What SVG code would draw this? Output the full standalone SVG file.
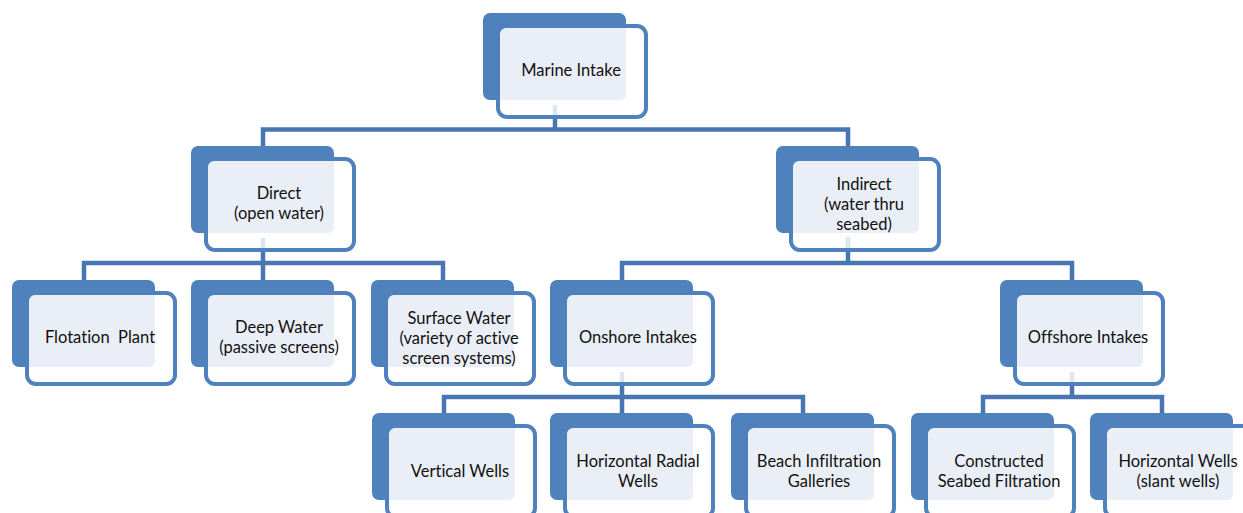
<svg xmlns="http://www.w3.org/2000/svg" xmlns:xlink="http://www.w3.org/1999/xlink" width="1243" height="513" viewBox="0 0 1243 513">
<style>
.t{font-family:Lato,"Open Sans","Liberation Sans",sans-serif;font-size:16.5px;fill:#111;text-anchor:middle;white-space:pre;font-variant-ligatures:none;font-feature-settings:"liga" 0,"dlig" 0}
.c{fill:none;stroke:#4876B2;stroke-width:4.5;stroke-linejoin:miter}
</style>
<defs>
<g id="card">
<rect x="0" y="0" width="143" height="87" rx="7" fill="#4F81BD"/>
<rect x="15" y="13" width="148" height="91" rx="9" fill="#fff" fill-opacity="0.82" stroke="#4F81BD" stroke-width="4"/>
<path d="M17,22 Q17,15 24,15 H143 V80 Q143,87 136,87 H17 Z" fill="#EAEFF7"/>
</g>
</defs>
<rect width="1243" height="513" fill="#fff"/>
<g id="connectors">
<path class="c" d="M555,105 V129.5 M263,146 V129.5 H848 V146"/>
<path class="c" d="M263,238 V263 M84,280 V263 H443 V280 M263,263 V280"/>
<path class="c" d="M848,237 V263 M622,280 V263 H1072 V280"/>
<path class="c" d="M622,372 V397 M444,413 V397 H803 V413 M622,397 V413"/>
<path class="c" d="M1072,372 V397 M983,413 V397 H1162 V413"/>
</g>
<g id="n-marine"><use xlink:href="#card" x="483" y="13"/><text class="t" x="571" y="76">Marine Intake</text></g>
<g id="n-direct"><use xlink:href="#card" x="191" y="146"/><text class="t" x="279" y="199">Direct</text><text class="t" x="279" y="218.8">(open water)</text></g>
<g id="n-indirect"><use xlink:href="#card" x="776" y="146"/><text class="t" x="864" y="190">Indirect</text><text class="t" x="864" y="209.8">(water thru</text><text class="t" x="864" y="229.6">seabed)</text></g>
<g id="n-flotation"><use xlink:href="#card" x="12" y="280"/><text class="t" x="100" y="343">Flotation  Plant</text></g>
<g id="n-deep"><use xlink:href="#card" x="191" y="280"/><text class="t" x="279" y="333">Deep Water</text><text class="t" x="279" y="352.8">(passive screens)</text></g>
<g id="n-surface"><use xlink:href="#card" x="371" y="280"/><text class="t" x="459" y="324">Surface Water</text><text class="t" x="459" y="343.8">(variety of active</text><text class="t" x="459" y="363.6">screen systems)</text></g>
<g id="n-onshore"><use xlink:href="#card" x="550" y="280"/><text class="t" x="638" y="343">Onshore Intakes</text></g>
<g id="n-offshore"><use xlink:href="#card" x="1000" y="280"/><text class="t" x="1088" y="343">Offshore Intakes</text></g>
<g id="n-vertical"><use xlink:href="#card" x="372" y="413"/><text class="t" x="460" y="477">Vertical Wells</text></g>
<g id="n-radial"><use xlink:href="#card" x="550" y="413"/><text class="t" x="638" y="467">Horizontal Radial</text><text class="t" x="638" y="486.8">Wells</text></g>
<g id="n-beach"><use xlink:href="#card" x="731" y="413"/><text class="t" x="819" y="467">Beach Infiltration</text><text class="t" x="819" y="486.8">Galleries</text></g>
<g id="n-constructed"><use xlink:href="#card" x="911" y="413"/><text class="t" x="999" y="467">Constructed</text><text class="t" x="999" y="486.8">Seabed Filtration</text></g>
<g id="n-horizontal"><use xlink:href="#card" x="1090" y="413"/><text class="t" x="1178" y="467">Horizontal Wells</text><text class="t" x="1178" y="486.8">(slant wells)</text></g>
</svg>
